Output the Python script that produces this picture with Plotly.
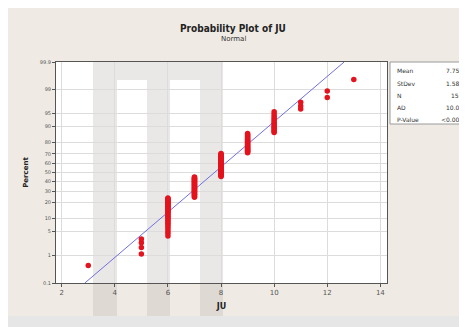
import plotly.graph_objects as go
from statistics import NormalDist

# ---- data ----
ju_values = [3, 5, 6, 7, 8, 9, 10, 11, 12, 13]
ju_counts = [1, 4, 31, 32, 38, 24, 14, 3, 2, 1]
pct_ticks = [0.1, 1, 5, 10, 20, 30, 40, 50, 60, 70, 80, 90, 95, 99, 99.9]
pct_labels = ["0.1", "1", "5", "10", "20", "30", "40", "50", "60", "70", "80", "90", "95", "99", "99.9"]
x_ticks = [2, 4, 6, 8, 10, 12, 14]
stat_names = ["Mean", "StDev", "N", "AD", "P-Value"]
stat_values = ["7.753", "1.580", "150", "10.03", "<0.005"]

nd = NormalDist()
data = []
for v, c in zip(ju_values, ju_counts):
    data += [v] * c
n = len(data)
data.sort()
mean = sum(data) / n
sd = (sum((d - mean) ** 2 for d in data) / (n - 1)) ** 0.5
zs = [nd.inv_cdf((i + 1 - 0.3) / (n + 0.4)) for i in range(n)]

zlo, zhi = nd.inv_cdf(0.001), nd.inv_cdf(0.999)

# page offset (body margin) of 8px; coordinates below are in page pixels
OFF = 8
W, H = 467 - OFF, 327 - OFF
L, R, T, B = 56, 387, 62, 283
def px(x):
    return (x - L) / (R - L)
def py(y):
    return (B - y) / (B - T)

fig = go.Figure()
fig.add_trace(go.Scatter(
    x=[mean + sd * zlo, mean + sd * zhi], y=[zlo, zhi], mode="lines",
    line=dict(color="#6f6fe0", width=1), hoverinfo="skip", showlegend=False))
fig.add_trace(go.Scatter(
    x=data, y=zs, mode="markers",
    marker=dict(color="#e3141e", size=5.5, line=dict(width=0)), showlegend=False))

shapes = []
shapes.append(dict(type="rect", xref="paper", yref="paper", x0=px(0), x1=px(480), y0=py(316), y1=py(340),
                   fillcolor="#e6e6e6", line_width=0, layer="below"))
# watermark (faint gray pillars)
wm = "rgba(170,165,160,0.25)"
for x0, x1 in [(93, 117), (147, 170), (200, 223)]:
    shapes.append(dict(type="rect", xref="paper", yref="paper", x0=px(x0), x1=px(x1), y0=py(T), y1=py(316),
                       fillcolor=wm, line_width=0, layer="below"))
for x0, x1 in [(117, 147), (170, 200)]:
    shapes.append(dict(type="rect", xref="paper", yref="paper", x0=px(x0), x1=px(x1), y0=py(T), y1=py(80),
                       fillcolor=wm, line_width=0, layer="below"))
# stats box
shapes.append(dict(type="rect", xref="paper", yref="paper", x0=px(390), x1=px(475), y0=py(62), y1=py(124),
                   fillcolor="white", line=dict(color="#9a9a9a", width=1), layer="above"))

annotations = [
    dict(text="<b>Probability Plot of JU</b>", x=px(233), y=py(28), xref="paper", yref="paper",
         showarrow=False, font=dict(size=10, color="#222", family="DejaVu Sans Condensed, DejaVu Sans"),
         xanchor="center", yanchor="middle"),
    dict(text="Normal", x=px(233), y=py(39), xref="paper", yref="paper", showarrow=False,
         font=dict(size=7, color="#333"), xanchor="center", yanchor="middle"),
]
row_y = [71, 83, 95, 107, 119]
for nm, val, yy in zip(stat_names, stat_values, row_y):
    annotations.append(dict(text=nm, x=px(395), y=py(yy), xref="paper", yref="paper", showarrow=False,
                            font=dict(size=6, color="#333"), xanchor="left", yanchor="middle"))
    annotations.append(dict(text=val, x=px(465), y=py(yy), xref="paper", yref="paper", showarrow=False,
                            font=dict(size=6, color="#333"), xanchor="right", yanchor="middle"))

fig.update_layout(
    width=W, height=H,
    margin=dict(l=L - OFF, r=467 - R, t=T - OFF, b=327 - B),
    paper_bgcolor="#efebe4", plot_bgcolor="white",
    font=dict(family="DejaVu Sans", size=6, color="#444"),
    shapes=shapes, annotations=annotations,
    xaxis=dict(range=[1.785, 14.25], tickvals=x_ticks, showgrid=True, gridcolor="#dcdcdc", gridwidth=1,
               zeroline=False, showline=True, linecolor="#555", linewidth=1, mirror=True,
               ticks="outside", ticklen=3, tickcolor="#555", tickfont=dict(size=7, color="#555"),
               title=dict(text="<b>JU</b>", font=dict(size=8, color="#222"), standoff=6)),
    yaxis=dict(range=[zlo, zhi], tickvals=[nd.inv_cdf(p / 100) for p in pct_ticks], ticktext=pct_labels,
               showgrid=True, gridcolor="#dcdcdc", gridwidth=1, zeroline=False, showline=True,
               linecolor="#555", linewidth=1, mirror=True, ticks="outside", ticklen=3, tickcolor="#555",
               tickfont=dict(size=5, color="#555"),
               title=dict(text="<b>Percent</b>", font=dict(size=7, color="#222"), standoff=10)),
)

fig.write_html("out.html")
